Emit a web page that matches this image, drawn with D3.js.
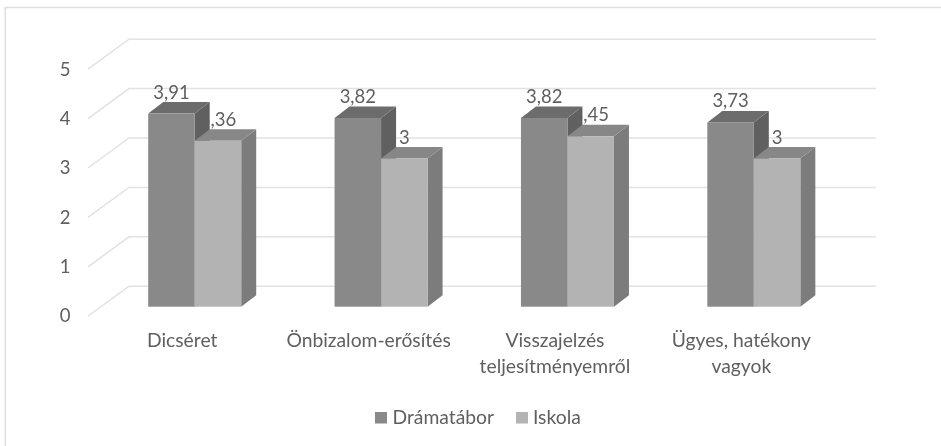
<!DOCTYPE html>
<meta charset="utf-8" />
<style>
    body { margin: 0; background: #fff; }
    svg { display: block; filter: blur(0.4px); }
    text { font-family: Lato, "Open Sans", sans-serif; fill: #5f5f5f; }
</style>
<svg width="941" height="446"></svg>
<script src="https://d3js.org/d3.v7.min.js"></script>
<script>
    var categories = ["Dicséret", "Önbizalom-erősítés", "Visszajelzés teljesítményemről", "Ügyes, hatékony vagyok"];
    var categoryLines = [["Dicséret"], ["Önbizalom-erősítés"], ["Visszajelzés", "teljesítményemről"], ["Ügyes, hatékony", "vagyok"]];
    var seriesNames = ["Drámatábor", "Iskola"];
    var dramatabor = [3.91, 3.82, 3.82, 3.73];
    var iskola = [3.36, 3, 3.45, 3];
    var yTicks = [0, 1, 2, 3, 4, 5];

    var svg = d3.select("svg");

    // bars stand a little in front of the back wall, the depth is faked with offsets
    var floorY = 306.7;
    var wallDx = 41, wallDy = 30;
    var barDx = 15, barDy = 11.5;

    var y = d3.scaleLinear().domain([0, 5]).range([floorY, floorY - 247]);
    var yLabel = d3.scaleLinear().domain([0, 5]).range([321.8, 76.2]);
    var x0 = d3.scaleBand().domain(categories).range([101.5, 847]);
    var x1 = d3.scaleBand().domain(seriesNames).range([46.7, 139.7]);

    // frame, only top and left edges show in the picture
    svg.append("path")
        .attr("d", "M5.3,446V7.5H941")
        .attr("fill", "none")
        .attr("stroke", "#e0e0e0")
        .attr("stroke-width", 1.6);

    // walls
    var grid = svg.append("g")
        .attr("fill", "none")
        .attr("stroke", "#e2e2e2")
        .attr("stroke-width", 1.5);

    grid.selectAll("path")
        .data(yTicks)
        .enter()
        .append("path")
        .attr("d", function (d) {
            return "M" + 88 + "," + (y(d) + 9.5) +
                "L" + (88 + wallDx) + "," + (y(d) + 9.5 - wallDy) +
                "H" + 876;
        });

    // y labels
    svg.append("g")
        .selectAll("text")
        .data(yTicks)
        .enter()
        .append("text")
        .attr("x", 65)
        .attr("y", function (d) { return yLabel(d); })
        .attr("text-anchor", "middle")
        .style("font-size", "18.5px")
        .text(function (d) { return d; });

    function fmt(v) {
        return String(v).replace(".", ",");
    }

    // light labels sit under the dark bars
    svg.append("g")
        .selectAll("text")
        .data(iskola)
        .enter()
        .append("text")
        .attr("x", function (d, i) { return x0(categories[i]) + x1("Iskola") + x1.bandwidth() / 2; })
        .attr("y", function (d) { return y(d) - 15; })
        .attr("text-anchor", "middle")
        .style("font-size", "18.5px")
        .text(fmt);

    function drawBars(values, name, front, top, side) {
        var g = svg.append("g");
        values.forEach(function (v, i) {
            var left = x0(categories[i]) + x1(name);
            var right = left + x1.bandwidth();
            var topY = y(v);
            g.append("path")
                .attr("fill", side)
                .attr("d", "M" + right + "," + topY + "l" + barDx + "," + (-barDy) +
                    "V" + (floorY - barDy) + "L" + right + "," + floorY + "Z");
            g.append("path")
                .attr("fill", top)
                .attr("d", "M" + left + "," + topY + "l" + barDx + "," + (-barDy) +
                    "H" + (right + barDx) + "L" + right + "," + topY + "Z");
            g.append("rect")
                .attr("x", left)
                .attr("y", topY)
                .attr("width", x1.bandwidth())
                .attr("height", floorY - topY)
                .attr("fill", front);
        });
    }

    drawBars(dramatabor, "Drámatábor", "#898989", "#6c6c6c", "#606060");
    drawBars(iskola, "Iskola", "#b3b3b3", "#878787", "#7c7c7c");

    // dark labels
    svg.append("g")
        .selectAll("text")
        .data(dramatabor)
        .enter()
        .append("text")
        .attr("x", function (d, i) { return x0(categories[i]) + x1("Drámatábor") + x1.bandwidth() / 2; })
        .attr("y", function (d) { return y(d) - 15; })
        .attr("text-anchor", "middle")
        .style("font-size", "18.5px")
        .text(fmt);

    // category labels
    categoryLines.forEach(function (lines, i) {
        svg.append("text")
            .attr("text-anchor", "middle")
            .style("font-size", "19.3px")
            .selectAll("tspan")
            .data(lines)
            .enter()
            .append("tspan")
            .attr("x", x0(categories[i]) + x0.bandwidth() / 2 - 12.5)
            .attr("y", function (d, j) { return 347 + j * 26; })
            .text(function (d) { return d; });
    });

    // legend
    var legend = svg.append("g");
    legend.append("rect").attr("x", 375).attr("y", 412).attr("width", 12).attr("height", 11.5).attr("fill", "#898989");
    legend.append("text").attr("x", 392.5).attr("y", 424).style("font-size", "19.3px").text(seriesNames[0]);
    legend.append("rect").attr("x", 516).attr("y", 412).attr("width", 12).attr("height", 11.5).attr("fill", "#b3b3b3");
    legend.append("text").attr("x", 533).attr("y", 424).style("font-size", "19.3px").text(seriesNames[1]);
</script>
